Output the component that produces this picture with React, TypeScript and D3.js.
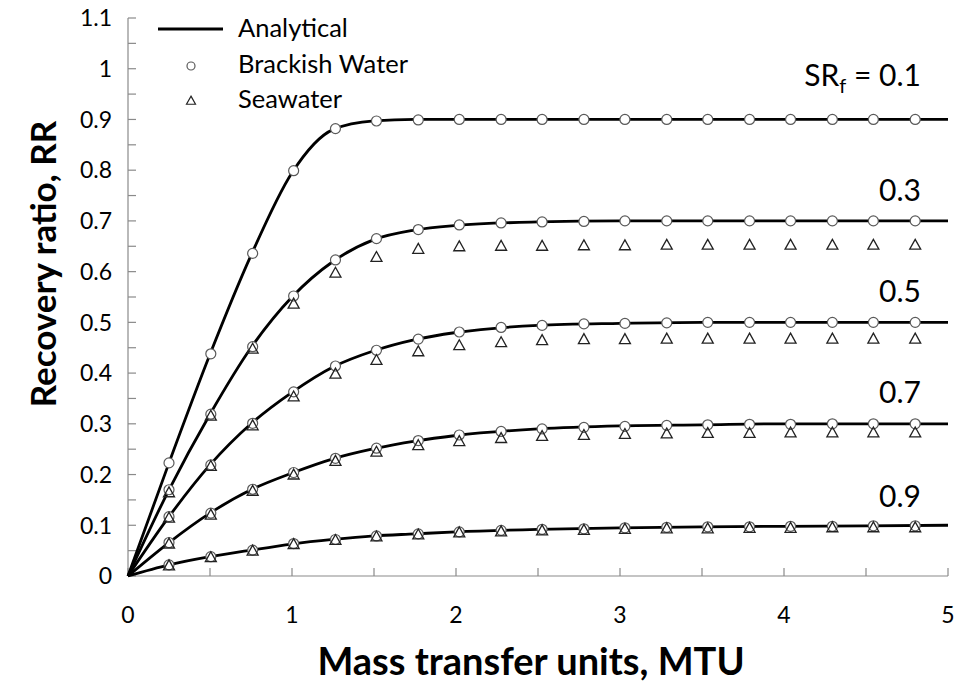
import React from "react";
import * as d3 from "d3";

// Marker MTU positions (numerical results)
const MTU: number[] = [0.25, 0.505, 0.76, 1.01, 1.265, 1.515, 1.77, 2.02, 2.275, 2.525, 2.78, 3.03, 3.285, 3.535, 3.79, 4.04, 4.295, 4.545, 4.8];

// Brackish water (circles)
const BW_01: number[] = [0.223, 0.438, 0.636, 0.799, 0.882, 0.897, 0.899, 0.9, 0.9, 0.9, 0.9, 0.9, 0.9, 0.9, 0.9, 0.9, 0.9, 0.9, 0.9];
const BW_03: number[] = [0.17, 0.319, 0.452, 0.552, 0.623, 0.665, 0.683, 0.692, 0.696, 0.698, 0.699, 0.7, 0.7, 0.7, 0.7, 0.7, 0.7, 0.7, 0.7];
const BW_05: number[] = [0.117, 0.219, 0.301, 0.363, 0.414, 0.445, 0.467, 0.481, 0.49, 0.494, 0.497, 0.498, 0.499, 0.5, 0.5, 0.5, 0.5, 0.5, 0.5];
const BW_07: number[] = [0.066, 0.124, 0.171, 0.204, 0.232, 0.252, 0.267, 0.278, 0.285, 0.29, 0.293, 0.295, 0.297, 0.298, 0.299, 0.299, 0.3, 0.3, 0.3];
const BW_09: number[] = [0.022, 0.038, 0.051, 0.064, 0.072, 0.079, 0.083, 0.087, 0.09, 0.092, 0.093, 0.095, 0.096, 0.097, 0.097, 0.098, 0.098, 0.099, 0.099];

// Seawater (triangles)
const SW_03: number[] = [0.164, 0.315, 0.447, 0.536, 0.597, 0.628, 0.644, 0.649, 0.65, 0.65, 0.651, 0.651, 0.652, 0.652, 0.652, 0.652, 0.652, 0.652, 0.652];
const SW_05: number[] = [0.114, 0.216, 0.296, 0.353, 0.398, 0.425, 0.442, 0.454, 0.46, 0.464, 0.466, 0.466, 0.467, 0.467, 0.467, 0.467, 0.467, 0.467, 0.467];
const SW_07: number[] = [0.063, 0.12, 0.167, 0.199, 0.226, 0.244, 0.257, 0.265, 0.271, 0.275, 0.277, 0.279, 0.28, 0.281, 0.281, 0.282, 0.282, 0.282, 0.282];
const SW_09: number[] = [0.02, 0.036, 0.049, 0.062, 0.07, 0.077, 0.081, 0.085, 0.087, 0.089, 0.09, 0.092, 0.093, 0.093, 0.094, 0.094, 0.095, 0.095, 0.095];

// Analytical curves
const AN_MTU: number[] = [0, 0.25, 0.5, 0.75, 1.0, 1.25, 1.5, 1.75, 2.0, 2.5, 3.0, 3.5, 4.0, 5.0];
const AN_01: number[] = [0, 0.223, 0.437, 0.632, 0.795, 0.88, 0.897, 0.9, 0.9, 0.9, 0.9, 0.9, 0.9, 0.9];
const AN_03: number[] = [0, 0.17, 0.319, 0.45, 0.55, 0.62, 0.663, 0.682, 0.691, 0.698, 0.7, 0.7, 0.7, 0.7];
const AN_05: number[] = [0, 0.117, 0.219, 0.3, 0.362, 0.412, 0.444, 0.466, 0.48, 0.494, 0.498, 0.5, 0.5, 0.5];
const AN_07: number[] = [0, 0.066, 0.124, 0.17, 0.203, 0.231, 0.251, 0.266, 0.277, 0.29, 0.296, 0.298, 0.3, 0.3];
const AN_09: number[] = [0, 0.022, 0.038, 0.051, 0.063, 0.072, 0.079, 0.083, 0.087, 0.092, 0.095, 0.097, 0.098, 0.1];

const SRF_LABELS: string[] = ["0.1", "0.3", "0.5", "0.7", "0.9"];
const LABEL_Y: number[] = [0.985, 0.74, 0.54, 0.342, 0.136];

const ANALYTICAL = [AN_01, AN_03, AN_05, AN_07, AN_09];
const BRACKISH = [BW_01, BW_03, BW_05, BW_07, BW_09];
const SEAWATER = [SW_03, SW_05, SW_07, SW_09];

const W = 960;
const H = 689;
const FONT = "Lato, 'Open Sans', sans-serif";
const AXIS = "#8a8a8a";

export default function App() {
  const x = d3.scaleLinear().domain([0, 5]).range([128, 948]);
  const y = d3.scaleLinear().domain([0, 1.1]).range([576, 18]);

  const line = d3
    .line<[number, number]>()
    .x((d) => x(d[0]))
    .y((d) => y(d[1]))
    .curve(d3.curveMonotoneX);

  const yMinor = d3.range(0, 22 + 1).map((i) => i * 0.05);
  const yMajor = d3.range(0, 11 + 1).map((i) => i / 10);
  const xMinor = d3.range(0, 10 + 1).map((i) => i * 0.5);
  const xMajor = x.ticks(5);

  const tri = (cx: number, cy: number, s: number) => {
    const h = s * 0.9;
    return `M${cx},${cy - h * 0.6}L${cx + s / 2},${cy + h * 0.4}L${cx - s / 2},${cy + h * 0.4}Z`;
  };

  return (
    <svg
      width={W}
      height={H}
      style={{ position: "absolute", left: 0, top: 0, background: "#fff" }}
      fontFamily={FONT}
    >
      <rect x={0} y={0} width={W} height={H} fill="#fff" />
      {/* axes */}
      <line x1={x(0)} x2={x(0)} y1={y(0)} y2={y(1.1)} stroke={AXIS} strokeWidth={1.2} />
      <line x1={x(0)} x2={x(5)} y1={y(0)} y2={y(0)} stroke={AXIS} strokeWidth={1.2} />
      {yMinor.map((v, i) => (
        <line key={"yt" + i} x1={x(0)} x2={x(0) + 8} y1={y(v)} y2={y(v)} stroke={AXIS} strokeWidth={1.2} />
      ))}
      {xMinor.map((v, i) => (
        <line key={"xt" + i} x1={x(v)} x2={x(v)} y1={y(0)} y2={y(0) - 8} stroke={AXIS} strokeWidth={1.2} />
      ))}
      {yMajor.map((v, i) => (
        <text key={"yl" + i} x={112} y={y(v)} dy="0.36em" textAnchor="end" fontSize={23} fill="#000">
          {String(+v.toFixed(1))}
        </text>
      ))}
      {xMajor.map((v, i) => (
        <text key={"xl" + i} x={x(v)} y={623} textAnchor="middle" fontSize={23} fill="#000">
          {String(v)}
        </text>
      ))}
      {/* axis titles */}
      <text x={531} y={675} textAnchor="middle" fontSize={38} fontWeight="bold" fill="#000">
        Mass transfer units, MTU
      </text>
      <text
        transform={`translate(56, ${264}) rotate(-90)`}
        textAnchor="middle"
        fontSize={35}
        fontWeight="bold"
        fill="#000"
      >
        Recovery ratio, RR
      </text>

      {/* analytical lines */}
      {ANALYTICAL.map((arr, k) => (
        <path
          key={"an" + k}
          d={line(AN_MTU.map((m, i) => [m, arr[i]] as [number, number])) || ""}
          fill="none"
          stroke="#000"
          strokeWidth={2.8}
        />
      ))}
      {/* brackish circles */}
      {BRACKISH.map((arr, k) =>
        arr.map((v, i) => (
          <circle key={`bw${k}-${i}`} cx={x(MTU[i])} cy={y(v)} r={5} fill="#fff" stroke="#5a5a5a" strokeWidth={1.2} />
        ))
      )}
      {/* seawater triangles */}
      {SEAWATER.map((arr, k) =>
        arr.map((v, i) => (
          <path key={`sw${k}-${i}`} d={tri(x(MTU[i]), y(v), 11)} fill="none" stroke="#222" strokeWidth={1.3} />
        ))
      )}

      {/* SRf labels */}
      {SRF_LABELS.map((s, i) =>
        i === 0 ? (
          <text key={"lab" + i} x={921} y={86} textAnchor="end" fontSize={30} fill="#000">
            SR<tspan fontSize={20} dy={7}>f</tspan>
            <tspan dy={-7}> = {s}</tspan>
          </text>
        ) : (
          <text key={"lab" + i} x={921} y={y(LABEL_Y[i])} textAnchor="end" fontSize={30} fill="#000">
            {s}
          </text>
        )
      )}

      {/* legend */}
      <line x1={158} x2={223} y1={29} y2={29} stroke="#000" strokeWidth={2.8} />
      <text x={238} y={37} fontSize={25.5} fill="#000">Analytical</text>
      <circle cx={191} cy={66} r={4} fill="#fff" stroke="#5a5a5a" strokeWidth={1.2} />
      <text x={238} y={73} fontSize={25.5} fill="#000">Brackish Water</text>
      <path d={tri(191, 101, 9)} fill="none" stroke="#222" strokeWidth={1.2} />
      <text x={238} y={108} fontSize={25.5} fill="#000">Seawater</text>
    </svg>
  );
}
